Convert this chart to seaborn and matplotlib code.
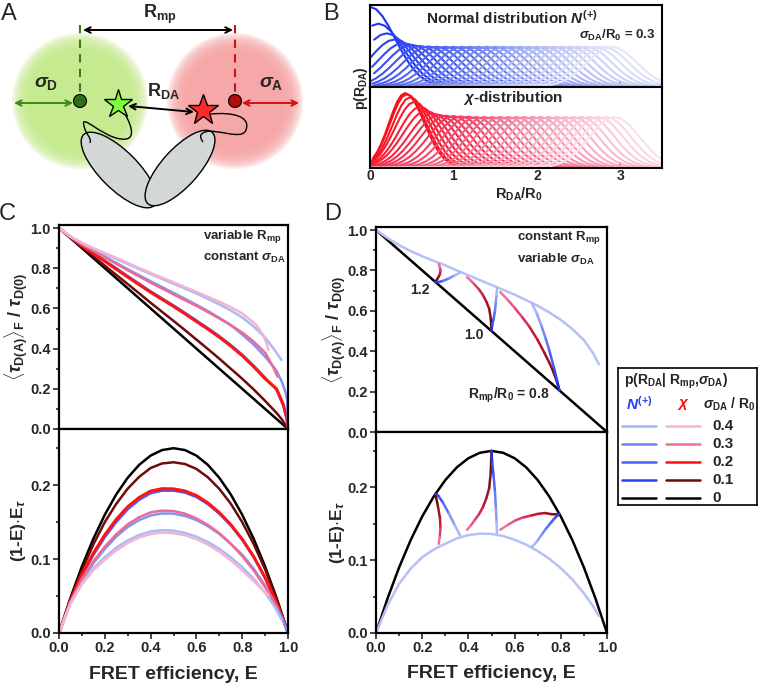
import numpy as np
import matplotlib
matplotlib.use("Agg")
import matplotlib.pyplot as plt
import matplotlib.colors as mcolors
from matplotlib.collections import LineCollection
from matplotlib.patches import Circle, Ellipse, PathPatch
from matplotlib.path import Path
from matplotlib.ticker import MultipleLocator, FormatStrFormatter
import pandas as pd
import seaborn as sns

# ---------------- panel B: distance distributions, sigma_DA/R0 = 0.3 ----------------
sigma_da = 0.3
norm_centers = [0.0, 0.1, 0.2, 0.3, 0.4, 0.5, 0.6, 0.7, 0.8, 0.9, 1.0, 1.1, 1.2, 1.3, 1.4,
                1.5, 1.6, 1.7, 1.8, 1.9, 2.0, 2.1, 2.2, 2.3, 2.4, 2.5, 2.6, 2.7, 2.8, 2.9]
norm_peaks = [2.66, 2.10, 1.78, 1.58, 1.46, 1.40, 1.36, 1.345, 1.337, 1.334] + [1.333] * 20
chi_peak_pos = [0.42, 0.44, 0.48, 0.53, 0.60, 0.67, 0.75, 0.83, 0.91, 1.00, 1.09, 1.18, 1.275,
                1.37, 1.465, 1.56, 1.66, 1.755, 1.85, 1.95, 2.045, 2.14, 2.24, 2.34, 2.44,
                2.535, 2.635, 2.735, 2.83, 2.93]
chi_peaks = [1.96, 1.93, 1.85, 1.73, 1.60, 1.50, 1.43, 1.39, 1.37, 1.36, 1.35, 1.345] + [1.335] * 18
chi_left_w = [0.19, 0.20, 0.21, 0.23, 0.25, 0.27, 0.28, 0.29, 0.295] + [0.30] * 21
chi_right_w = [0.23, 0.235, 0.245, 0.26, 0.27, 0.28, 0.29, 0.295] + [0.30] * 22
bump_offsets = [-3.0, -2.75, -2.5, -2.25, -2.0, -1.75, -1.5, -1.25, -1.0, -0.75, -0.5, -0.25, 0.0,
                0.25, 0.5, 0.75, 1.0, 1.25, 1.5, 1.75, 2.0, 2.25, 2.5, 2.75, 3.0]
bump_shape = [0.011, 0.023, 0.044, 0.080, 0.135, 0.216, 0.325, 0.458, 0.607, 0.755, 0.882, 0.969, 1.0,
              0.969, 0.882, 0.755, 0.607, 0.458, 0.325, 0.216, 0.135, 0.080, 0.044, 0.023, 0.011]

# ---------------- panel C: variable R_mp, constant sigma_DA  (E, <tau>_F/tau_D0) ----------------
c_black_E = [0.0, 0.05, 0.1, 0.15, 0.2, 0.25, 0.3, 0.35, 0.4, 0.45, 0.5, 0.55, 0.6, 0.65, 0.7,
             0.75, 0.8, 0.85, 0.9, 0.95, 1.0]
c_black_tau = [1.0, 0.95, 0.9, 0.85, 0.8, 0.75, 0.7, 0.65, 0.6, 0.55, 0.5, 0.45, 0.4, 0.35, 0.3,
               0.25, 0.2, 0.15, 0.1, 0.05, 0.0]
c_chi01_E = [0.0, 0.05, 0.1, 0.15, 0.2, 0.25, 0.3, 0.35, 0.4, 0.45, 0.5, 0.55, 0.6, 0.65, 0.7,
             0.75, 0.8, 0.85, 0.9, 0.95, 0.975, 1.0]
c_chi01_tau = [1.0, 0.952, 0.906, 0.859, 0.8125, 0.767, 0.721, 0.675, 0.628, 0.583, 0.538, 0.492,
               0.445, 0.398, 0.35, 0.30, 0.25, 0.197, 0.14, 0.08, 0.045, 0.0]
c_chi02_E = [0.0, 0.05, 0.1, 0.15, 0.2, 0.25, 0.3, 0.35, 0.4, 0.45, 0.5, 0.55, 0.6, 0.65, 0.7,
             0.75, 0.8, 0.85, 0.9, 0.95, 0.98, 0.995, 1.0]
c_chi02_tau = [1.0, 0.954, 0.912, 0.873, 0.834, 0.795, 0.756, 0.718, 0.68, 0.645, 0.61, 0.573,
               0.535, 0.497, 0.457, 0.413, 0.365, 0.31, 0.25, 0.20, 0.12, 0.05, 0.0]
c_norm02_tau = [1.0, 0.955, 0.914, 0.876, 0.838, 0.80, 0.761, 0.723, 0.685, 0.65, 0.615, 0.578,
                0.54, 0.502, 0.462, 0.418, 0.37, 0.315, 0.255, 0.195, 0.115, 0.05, 0.0]
c_chi03_E = [0.0, 0.05, 0.1, 0.15, 0.2, 0.25, 0.3, 0.35, 0.4, 0.45, 0.5, 0.55, 0.6, 0.65, 0.7,
             0.75, 0.8, 0.85, 0.9, 0.93, 0.955]
c_chi03_tau = [1.0, 0.956, 0.919, 0.886, 0.854, 0.822, 0.79, 0.759, 0.728, 0.699, 0.67, 0.641,
               0.6125, 0.582, 0.55, 0.517, 0.48, 0.435, 0.38, 0.32, 0.26]
c_norm03_E = [0.0, 0.05, 0.1, 0.15, 0.2, 0.25, 0.3, 0.35, 0.4, 0.45, 0.5, 0.55, 0.6, 0.65, 0.7,
              0.75, 0.8, 0.85, 0.9, 0.95, 0.975, 0.99, 0.997, 1.0]
c_norm03_tau = [1.0, 0.957, 0.921, 0.889, 0.858, 0.826, 0.795, 0.765, 0.735, 0.706, 0.677, 0.648,
                0.618, 0.587, 0.553, 0.517, 0.47, 0.42, 0.36, 0.29, 0.23, 0.18, 0.14, 0.0]
c_chi04_E = [0.0, 0.05, 0.1, 0.15, 0.2, 0.25, 0.3, 0.35, 0.4, 0.45, 0.5, 0.55, 0.6, 0.65, 0.7,
             0.75, 0.8, 0.86, 0.89, 0.905, 0.915]
c_chi04_tau = [1.0, 0.958, 0.927, 0.90, 0.876, 0.851, 0.826, 0.801, 0.777, 0.753, 0.73, 0.706,
               0.6825, 0.658, 0.633, 0.606, 0.575, 0.52, 0.47, 0.43, 0.393]
c_norm04_E = [0.0, 0.05, 0.1, 0.15, 0.2, 0.25, 0.3, 0.35, 0.4, 0.45, 0.5, 0.55, 0.6, 0.65, 0.7,
              0.75, 0.8, 0.85, 0.9, 0.94, 0.972]
c_norm04_tau = [1.0, 0.957, 0.925, 0.897, 0.872, 0.846, 0.821, 0.796, 0.771, 0.747, 0.723, 0.699,
                0.674, 0.648, 0.62, 0.59, 0.555, 0.51, 0.455, 0.395, 0.343]

# ---------------- panel D: constant R_mp, variable sigma_DA ----------------
d_outer_E = [0.0, 0.05, 0.1, 0.15, 0.2, 0.25, 0.3, 0.35, 0.4, 0.45, 0.5, 0.55, 0.6, 0.65, 0.7,
             0.75, 0.8, 0.85, 0.9, 0.94, 0.965]
d_outer_tau = [1.0, 0.96, 0.925, 0.896, 0.87, 0.847, 0.825, 0.80, 0.776, 0.752, 0.728, 0.704,
               0.68, 0.653, 0.625, 0.592, 0.555, 0.51, 0.455, 0.39, 0.335]
d12_chi_E = [0.257, 0.268, 0.277, 0.279, 0.276, 0.271]
d12_chi_tau = [0.743, 0.762, 0.782, 0.80, 0.818, 0.832]
d12_norm_E = [0.257, 0.27, 0.29, 0.315, 0.34, 0.365]
d12_norm_tau = [0.743, 0.742, 0.748, 0.76, 0.775, 0.79]
d10_chi_E = [0.5, 0.497, 0.49, 0.478, 0.462, 0.445, 0.425, 0.41, 0.394]
d10_chi_tau = [0.5, 0.56, 0.61, 0.645, 0.68, 0.707, 0.732, 0.75, 0.766]
d10_norm_E = [0.5, 0.503, 0.509, 0.515, 0.519, 0.522, 0.524]
d10_norm_tau = [0.5, 0.53, 0.56, 0.60, 0.644, 0.68, 0.713]
d08_chi_E = [0.794, 0.78, 0.76, 0.73, 0.70, 0.665, 0.632, 0.60, 0.57, 0.538]
d08_chi_tau = [0.206, 0.26, 0.32, 0.39, 0.455, 0.52, 0.57, 0.615, 0.655, 0.693]
d08_norm_E = [0.794, 0.785, 0.77, 0.75, 0.733, 0.715, 0.695, 0.675]
d08_norm_tau = [0.206, 0.25, 0.32, 0.405, 0.468, 0.53, 0.59, 0.636]
rmp_labels = ["1.2", "1.0"]

# legend
legend_sigma = ["0.4", "0.3", "0.2", "0.1", "0"]
legend_norm_colors = ["#a3b4f5", "#6f86f2", "#4962f1", "#2a40ee", "black"]
legend_chi_colors = ["#f7b6d0", "#f0709a", "#ff1010", "#6a0a0a", "black"]

# ---------------- style ----------------
sns.set_theme(style="ticks")
plt.rcParams["font.family"] = ["Liberation Sans", "DejaVu Sans"]
plt.rcParams.update({
    "font.weight": "bold",
    "axes.labelweight": "bold",
    "mathtext.fontset": "custom",
    "mathtext.rm": "Liberation Sans:bold",
    "mathtext.bf": "Liberation Sans:bold",
    "mathtext.it": "Liberation Sans:italic:bold",
    "mathtext.sf": "Liberation Sans:bold",
    "axes.linewidth": 1.5,
    "axes.edgecolor": "black",
})

W, H = 758, 686
fig = plt.figure(figsize=(W / 100, H / 100), dpi=100)


def px_axes(x0, y0, x1, y1, **kw):
    return fig.add_axes([x0 / W, 1 - y1 / H, (x1 - x0) / W, (y1 - y0) / H], **kw)


def ftext(x, y, s, **kw):
    kw.setdefault("ha", "center")
    kw.setdefault("va", "center")
    fig.text(x / W, 1 - y / H, s, **kw)


# ================= panel A (schematic) =================
axa = px_axes(0, 0, 372, 212)
axa.set_xlim(0, 372)
axa.set_ylim(212, 0)
axa.axis("off")

# soft-edged discs: stacked translucent circles
for (cx, cy), col in [((80, 101), "#c4ea89"), ((235, 101), "#f6a4a4")]:
    for k in range(12):
        r = 68 - k * 1.6
        axa.add_patch(Circle((cx, cy), r, fc=col, ec="none", alpha=0.2))

axa.add_patch(Ellipse((119, 170), 100, 38, angle=45, fc="#d3d7d7", ec="black", lw=1.0))
axa.add_patch(Ellipse((180, 168), 96, 37, angle=-48, fc="#d3d7d7", ec="black", lw=1.0))

link_codes = [Path.MOVETO, Path.CURVE4, Path.CURVE4, Path.CURVE4,
              Path.CURVE4, Path.CURVE4, Path.CURVE4, Path.CURVE4, Path.CURVE4, Path.CURVE4]
green_link = [(124, 112), (133, 128), (136, 141), (121, 139), (102, 137), (80, 112), (84, 126),
              (86, 135), (92, 138), (90, 143)]
red_link = [(211, 114), (232, 112), (251, 116), (246, 130), (242, 141), (216, 128), (205, 132),
            (199, 134), (200, 138), (203, 142)]
for pts in (green_link, red_link):
    axa.add_patch(PathPatch(Path(pts, link_codes), fc="none", ec="black", lw=1.0))

axa.plot([80, 80], [25, 95], ls=(0, (4, 3)), color="#3d7d1e", lw=1.5)
axa.plot([235, 235], [25, 95], ls=(0, (4, 3)), color="#c81414", lw=1.5)

arrow_kw = dict(arrowstyle="<->", lw=1.4, shrinkA=0, shrinkB=0, mutation_scale=10)
axa.annotate("", xy=(233, 30), xytext=(83, 30), arrowprops=dict(color="black", **arrow_kw))
axa.annotate("", xy=(73, 103), xytext=(14, 103), arrowprops=dict(color="#3a8a1e", **arrow_kw))
axa.annotate("", xy=(299, 103), xytext=(242, 103), arrowprops=dict(color="#d01010", **arrow_kw))
axa.annotate("", xy=(194, 112), xytext=(128, 106), arrowprops=dict(color="black", **arrow_kw))

axa.add_patch(Circle((80, 101), 6.5, fc="#2f6e1c", ec="black", lw=0.8, zorder=5))
axa.add_patch(Circle((235, 101), 6.5, fc="#b30c0c", ec="black", lw=0.8, zorder=5))
axa.plot(118, 104, marker="*", ms=21, mfc="#7dff3a", mec="black", mew=1.0, zorder=6)
axa.plot(203, 110, marker="*", ms=23, mfc="#ff2a2a", mec="black", mew=1.0, zorder=6)

axa.text(160, 14, r"R$_{\rm mp}$", fontsize=13, ha="center", va="center")
axa.text(46, 84, r"$\sigma_{\rm D}$", fontsize=14, ha="center", va="center")
axa.text(271, 84, r"$\sigma_{\rm A}$", fontsize=14, ha="center", va="center")
axa.text(164, 91, r"R$_{\rm DA}$", fontsize=13, ha="center", va="center")

# ================= panel B =================
bt = px_axes(370, 5, 662, 87)
bb = px_axes(370, 87, 662, 168)

rows = []
for i, (c, pk) in enumerate(zip(norm_centers, norm_peaks)):
    for o, v in zip(bump_offsets, bump_shape):
        x = c + sigma_da * o
        if x >= 0:
            rows.append((f"n{i:02d}", x, pk * v))
df_norm = pd.DataFrame(rows, columns=["curve", "x", "y"])

rows = []
for i, (c, pk, wl, wr) in enumerate(zip(chi_peak_pos, chi_peaks, chi_left_w, chi_right_w)):
    pts = []
    for o, v in zip(bump_offsets, bump_shape):
        x = c + (wl if o < 0 else wr) * o
        if x >= 0:
            pts.append((x, pk * v))
    if pts[0][0] > 0.02:
        pts.insert(0, (0.0, 0.0))  # chi distributions start at the origin
    rows += [(f"c{i:02d}", x, y) for x, y in pts]
df_chi = pd.DataFrame(rows, columns=["curve", "x", "y"])

cmap_b = mcolors.LinearSegmentedColormap.from_list("b", ["#1c33f2", "#5468f0", "#a9b4f2", "#e4e7fa"])
cmap_r = mcolors.LinearSegmentedColormap.from_list("r", ["#ff0a14", "#f23a62", "#f59ab4", "#fce0e8"])
n_curves = len(norm_centers)
pal_n = {f"n{i:02d}": cmap_b(i / (n_curves - 1)) for i in range(n_curves)}
pal_c = {f"c{i:02d}": cmap_r(i / (n_curves - 1)) for i in range(n_curves)}

sns.lineplot(data=df_norm, x="x", y="y", hue="curve", palette=pal_n, sort=False,
             estimator=None, legend=False, lw=1.5, ax=bt)
sns.lineplot(data=df_chi, x="x", y="y", hue="curve", palette=pal_c, sort=False,
             estimator=None, legend=False, lw=1.5, ax=bb)

for ax, top in [(bt, 2.72), (bb, 2.12)]:
    ax.set_xlim(0, 3.5)
    ax.set_ylim(0, top)
    ax.set_xlabel("")
    ax.set_ylabel("")
    ax.set_yticks([])
    ax.xaxis.set_major_locator(MultipleLocator(1))
    ax.xaxis.set_minor_locator(MultipleLocator(0.5))
    ax.tick_params(axis="x", which="both", direction="in", width=1.2)
    ax.tick_params(axis="x", which="major", length=4)
    ax.tick_params(axis="x", which="minor", length=2.5)
    for s in ax.spines.values():
        s.set_linewidth(1.5)
bt.tick_params(axis="x", labelbottom=False)
bb.tick_params(axis="x", labelsize=10, pad=1)
for lab in bb.get_xticklabels():
    lab.set_fontweight("bold")

ftext(512, 18, r"Normal distribution $N^{(+)}$", fontsize=11)
ftext(656, 35, r"$\sigma_{\rm DA}$/R$_{\rm 0}$ = 0.3", fontsize=9.5, ha="right")
ftext(513, 98, r"$\chi$-distribution", fontsize=11)
ftext(361, 88, r"p(R$_{\rm DA}$)", fontsize=10, rotation=90)
ftext(519, 194, r"R$_{\rm DA}$/R$_{\rm 0}$", fontsize=10.5)

# ================= panels C and D =================
ct = px_axes(59, 225, 288, 429)
cb = px_axes(59, 429, 288, 633)
dt = px_axes(376, 227, 607, 432)
db = px_axes(376, 432, 607, 633)


def bottom_of(E, tau):
    E = np.asarray(E)
    tau = np.asarray(tau)
    return (1 - E) * (1 - tau)


c_curves = [
    (c_black_E, c_black_tau, "black", 1.8),
    (c_chi01_E, c_chi01_tau, "#6e0b0b", 1.8),
    (c_chi02_E, c_norm02_tau, "#4c63f1", 1.8),
    (c_chi02_E, c_chi02_tau, "#ff1414", 2.2),
    (c_norm03_E, c_norm03_tau, "#8095f3", 1.8),
    (c_chi03_E, c_chi03_tau, "#ee6a95", 1.8),
    (c_norm04_E, c_norm04_tau, "#aabbf6", 1.8),
    (c_chi04_E, c_chi04_tau, "#f6b3cf", 1.8),
]
for E, tau, col, lw in c_curves:
    sns.lineplot(x=E, y=tau, color=col, lw=lw, sort=False, estimator=None, ax=ct)
    sns.lineplot(x=E, y=bottom_of(E, tau), color=col, lw=lw, sort=False, estimator=None, ax=cb)

d_black_E = c_black_E
for ax, y in [(dt, c_black_tau), (db, bottom_of(c_black_E, c_black_tau))]:
    sns.lineplot(x=d_black_E, y=y, color="black", lw=1.8, sort=False, estimator=None, ax=ax)
sns.lineplot(x=d_outer_E, y=d_outer_tau, color="#b3c1f6", lw=1.8, sort=False, estimator=None, ax=dt)
sns.lineplot(x=d_outer_E, y=bottom_of(d_outer_E, d_outer_tau), color="#b3c1f6", lw=1.8,
             sort=False, estimator=None, ax=db)

cmap_dchi = mcolors.LinearSegmentedColormap.from_list("dc", ["#6a0a0a", "#c8163a", "#f0709a"])
cmap_dnorm = mcolors.LinearSegmentedColormap.from_list("dn", ["#1f36f0", "#5a72f2", "#a9b9f6"])


def gradient_line(ax, xs, ys, cmap, lw=1.8):
    pts = np.column_stack([xs, ys])
    segs = np.stack([pts[:-1], pts[1:]], axis=1)
    cols = cmap(np.linspace(0, 1, len(segs)))
    ax.add_collection(LineCollection(segs, colors=cols, linewidths=lw, capstyle="round", zorder=3))


for E, tau, cm in [(d12_chi_E, d12_chi_tau, cmap_dchi), (d12_norm_E, d12_norm_tau, cmap_dnorm),
                   (d10_chi_E, d10_chi_tau, cmap_dchi), (d10_norm_E, d10_norm_tau, cmap_dnorm),
                   (d08_chi_E, d08_chi_tau, cmap_dchi), (d08_norm_E, d08_norm_tau, cmap_dnorm)]:
    gradient_line(dt, E, tau, cm)
    gradient_line(db, E, bottom_of(E, tau), cm)

for ax in (ct, cb, dt, db):
    ax.set_xlim(0, 1)
    ax.set_xlabel("")
    ax.set_ylabel("")
    ax.xaxis.set_major_locator(MultipleLocator(0.2))
    ax.xaxis.set_minor_locator(MultipleLocator(0.1))
    ax.xaxis.set_major_formatter(FormatStrFormatter("%.1f"))
    ax.yaxis.set_major_formatter(FormatStrFormatter("%.1f"))
    ax.tick_params(which="both", direction="out", width=1.2, labelsize=10.5, pad=2)
    ax.tick_params(which="major", length=4)
    ax.tick_params(which="minor", length=2.5)
    for s in ax.spines.values():
        s.set_linewidth(1.6)
        s.set_visible(True)
for ax in (ct, dt):
    ax.set_ylim(0, 1.015)
    ax.yaxis.set_major_locator(MultipleLocator(0.2))
    ax.yaxis.set_minor_locator(MultipleLocator(0.1))
    ax.tick_params(axis="x", labelbottom=False)
for ax in (cb, db):
    ax.set_ylim(0, 0.276)
    ax.yaxis.set_major_locator(MultipleLocator(0.1))
    ax.yaxis.set_minor_locator(MultipleLocator(0.05))
    ax.set_xlabel("FRET efficiency, E", fontsize=14, fontweight="bold")
    ax.xaxis.set_label_coords(0.5, -0.16)
for ax in (ct, cb, dt, db):
    for lab in ax.get_xticklabels() + ax.get_yticklabels():
        lab.set_fontweight("bold")

tau_label = r"$\langle\tau_{\rm D(A)}\rangle_{\rm F}$ / $\tau_{\rm D(0)}$"
ct.set_ylabel(tau_label, fontsize=13)
dt.set_ylabel(tau_label, fontsize=13)
cb.set_ylabel(r"(1-E)$\cdot$E$_{\tau}$", fontsize=12.5)
db.set_ylabel(r"(1-E)$\cdot$E$_{\tau}$", fontsize=12.5)
ct.yaxis.set_label_coords(-0.127, 0.5)
cb.yaxis.set_label_coords(-0.135, 0.5)
dt.yaxis.set_label_coords(-0.121, 0.5)
db.yaxis.set_label_coords(-0.125, 0.5)

ftext(203, 237, r"variable R$_{\rm mp}$", fontsize=9.5, ha="left")
ftext(203, 257, r"constant $\sigma_{\rm DA}$", fontsize=9.5, ha="left")
ftext(517, 238, r"constant R$_{\rm mp}$", fontsize=9.5, ha="left")
ftext(517, 259, r"variable $\sigma_{\rm DA}$", fontsize=9.5, ha="left")
ftext(420, 290, rmp_labels[0], fontsize=10)
ftext(474, 335, rmp_labels[1], fontsize=10)
ftext(509, 395, r"R$_{\rm mp}$/R$_{\rm 0}$ = 0.8", fontsize=10)

# ================= legend box =================
la = px_axes(618, 368, 757, 505)
la.set_xlim(0, 139)
la.set_ylim(137, 0)
la.set_xticks([])
la.set_yticks([])
for s in la.spines.values():
    s.set_linewidth(1.2)
la.text(6, 13, r"p(R$_{\rm DA}$| R$_{\rm mp}$,$\sigma_{\rm DA}$)", fontsize=10, va="center")
la.text(21, 36, r"$N^{(+)}$", color="#2a40ee", fontsize=11, ha="center", va="center")
la.text(65, 36, r"$\chi$", color="#ff1010", fontsize=11, ha="center", va="center")
la.text(111, 36, r"$\sigma_{\rm DA}$ / R$_{\rm 0}$", fontsize=10, ha="center", va="center")
row_y0, row_dy = 58, 18
for i, (lab, cn, cc) in enumerate(zip(legend_sigma, legend_norm_colors, legend_chi_colors)):
    yy = row_y0 + i * row_dy
    la.plot([4, 38], [yy, yy], color=cn, lw=1.8)
    la.plot([48, 82], [yy, yy], color=cc, lw=1.8)
    la.text(94, yy, lab, fontsize=11, va="center")

# ================= panel letters =================
for s, x, y in [("A", 9, 14), ("B", 331, 14), ("C", 7, 214), ("D", 333, 214)]:
    ftext(x, y, s, fontsize=17, fontweight="normal")

fig.savefig("out.png", dpi=100)
